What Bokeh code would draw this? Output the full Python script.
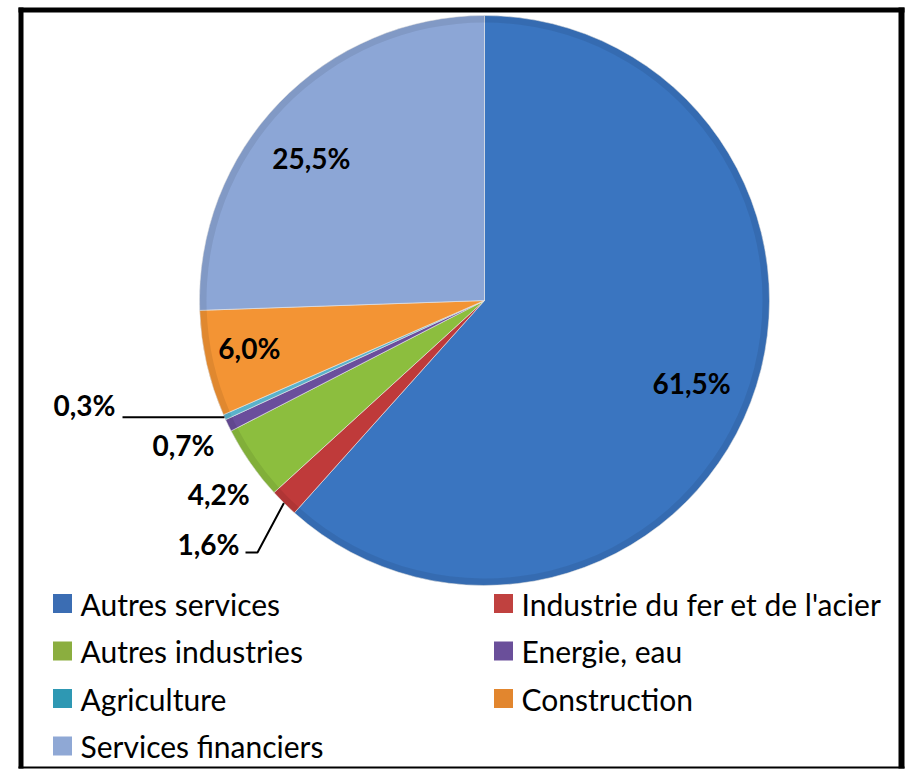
import math
from bokeh.plotting import figure
from bokeh.models import Range1d, ColumnDataSource
from bokeh.core.properties import value
from bokeh.embed import file_html
from bokeh.resources import INLINE

# ---------------- data ----------------
categories = ["Autres services", "Industrie du fer et de l'acier", "Autres industries",
              "Energie, eau", "Agriculture", "Construction", "Services financiers"]
shares = [61.5, 1.6, 4.2, 0.7, 0.3, 6.0, 25.5]
colors = ["#3A75C0", "#BF3A3A", "#8CBE3E", "#6A4E9C", "#5AB2CB", "#F39434", "#8CA6D6"]
legend_colors = ["#3B6DB3", "#C0413F", "#8BAE3F", "#6A4F9A", "#2E98B3", "#E2862E", "#8FA8D5"]

# ---------------- layout helpers (pixel space) ----------------
W, H = 909, 770
def X(ix):
    return ix
def Y(iy):
    return H - iy

cx, cy, R = X(484), Y(300), 285

total = sum(shares)
starts, ends, mids = [], [], []
acc = 0.0
for s in shares:
    a0 = math.pi / 2 - acc / total * 2 * math.pi
    acc += s
    a1 = math.pi / 2 - acc / total * 2 * math.pi
    starts.append(a0)
    ends.append(a1)
    mids.append((a0 + a1) / 2)

labels = [("%.1f%%" % s).replace(".", ",") for s in shares]

p = figure(width=W, height=H, x_range=Range1d(0, W), y_range=Range1d(0, H),
           output_backend="svg", toolbar_location=None, min_border=0)
p.axis.visible = False
p.grid.visible = False
p.outline_line_color = None
p.background_fill_color = "white"

src = ColumnDataSource(dict(start=starts, end=ends, color=colors))
p.wedge(x=cx, y=cy, radius=R, start_angle="start", end_angle="end", direction="clock",
        fill_color="color", line_color="#E8E8E8", line_width=1, line_alpha=0.6, source=src)
# subtle bevel at the rim
p.annular_wedge(x=cx, y=cy, inner_radius=R - 7, outer_radius=R, start_angle="start",
                end_angle="end", direction="clock", fill_color="black", fill_alpha=0.08,
                line_color=None, source=src)

# ---------------- labels ----------------
# per slice: (radius factor, angle nudge in degrees); None = placed with a leader line
label_place = [(0.783, -0.9), None, (1.153, 1.2), (1.171, -0.4), None, (0.842, -1.3), (0.786, 4.6)]
lx, ly = [], []
for i, m in enumerate(mids):
    if label_place[i] is not None:
        rf, nd = label_place[i]
        a = m + math.radians(nd)
        lx.append(cx + rf * R * math.cos(a))
        ly.append(cy + rf * R * math.sin(a))
    else:
        lx.append(None); ly.append(None)
# Agriculture (index 4): horizontal leader to the left
ex, ey = cx + R * math.cos(mids[4]), cy + R * math.sin(mids[4])
p.line([ex, X(122)], [ey, ey], line_color="black", line_width=2)
lx[4], ly[4] = X(84), ey + 12
# Industrie (index 1): bent leader
ex1, ey1 = cx + R * math.cos(mids[1]), cy + R * math.sin(mids[1])
p.line([ex1, X(257), X(245)], [ey1, Y(552), Y(552)], line_color="black", line_width=2)
lx[1], ly[1] = X(208), Y(543)

p.text(x=lx, y=ly, text=labels, text_font=value("Lato"), text_font_style="bold",
       text_font_size="28px", text_align="center", text_baseline="middle", text_color="black")

# ---------------- legend ----------------
lgx, lgy, ltx = [], [], []
for i, name in enumerate(categories):
    col, row = i % 2, i // 2
    lgx.append(X(62 + col * 441))
    lgy.append(Y(603 + row * 47.5))
    ltx.append(X(80 + col * 441))
p.rect(x=lgx, y=lgy, width=19, height=19, fill_color=legend_colors, line_color=None)
p.text(x=ltx, y=lgy, text=categories, text_font=value("Lato"), text_font_size="30px",
       text_align="left", text_baseline="middle", text_color="black")

# ---------------- frame ----------------
p.quad(left=[X(18), X(18), X(898), X(18)], right=[X(23), X(904), X(904), X(904)],
       bottom=[Y(768), Y(12), Y(768), Y(768)], top=[Y(7), Y(7), Y(7), Y(766)],
       fill_color="black", line_color=None)

open("out.html", "w").write(file_html(p, INLINE))
